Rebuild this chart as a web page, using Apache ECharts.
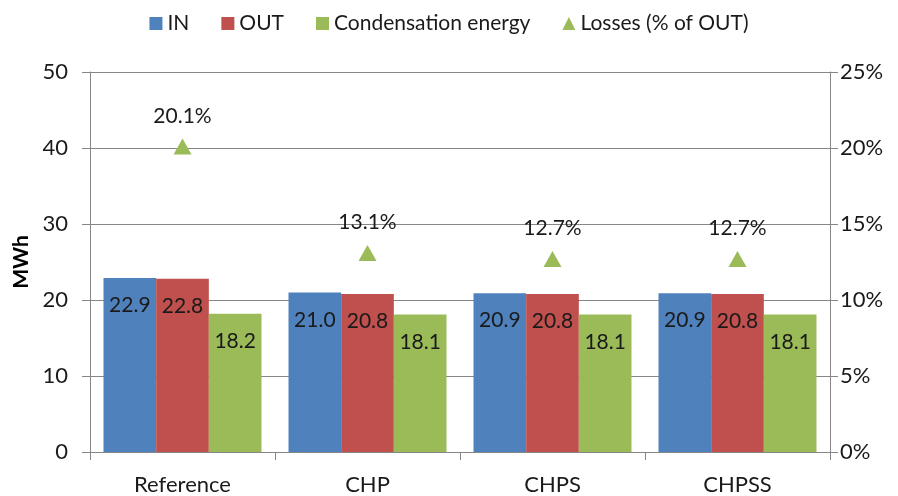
<!DOCTYPE html>
<html><head><meta charset="utf-8">
<script src="https://cdn.jsdelivr.net/npm/echarts@6/dist/echarts.min.js"></script>
<style>html,body{margin:0;padding:0;background:#fff}#c{width:898px;height:496px}</style>
</head><body><div id="c"></div>
<script>
const categories = ['Reference', 'CHP', 'CHPS', 'CHPSS'];
const inValues = [22.9, 21.0, 20.9, 20.9];
const outValues = [22.8, 20.8, 20.8, 20.8];
const condValues = [18.2, 18.1, 18.1, 18.1];
const lossValues = [20.1, 13.1, 12.7, 12.7];
const seriesNames = ['IN', 'OUT', 'Condensation energy', 'Losses (% of OUT)'];

const FONT = 'Lato';
const axisGrey = '#868686';
const txt = '#1a1a1a';
const chart = echarts.init(document.getElementById('c'), null, {renderer: 'canvas'});
const barLabel = {show: true, position: 'insideTop', distance: 17, color: txt, fontSize: 21, fontFamily: FONT,
  formatter: p => p.value.toFixed(1)};
function bar(name, data, color) {
  return {name, type: 'bar', data, barGap: '0%', barCategoryGap: '14.6%', itemStyle: {color}, label: barLabel};
}
chart.setOption({
  animation: false,
  textStyle: {fontFamily: FONT},
  legend: {
    top: 8, left: 'center', itemWidth: 13, itemHeight: 13, itemGap: 32,
    textStyle: {fontSize: 21, color: txt, fontFamily: FONT},
    data: [
      {name: seriesNames[0], icon: 'rect'},
      {name: seriesNames[1], icon: 'rect'},
      {name: seriesNames[2], icon: 'rect'},
      {name: seriesNames[3], icon: 'triangle'}
    ]
  },
  grid: {left: 90, right: 68, top: 72, bottom: 44, containLabel: false, outerBoundsMode: 'none'},
  xAxis: {
    type: 'category', data: categories,
    axisLine: {lineStyle: {color: axisGrey}},
    axisTick: {show: true, length: 8, lineStyle: {color: axisGrey}},
    axisLabel: {fontSize: 22, color: txt, margin: 22, fontFamily: FONT}
  },
  yAxis: [
    {type: 'value', min: 0, max: 50, interval: 10, name: 'MWh', nameLocation: 'middle', nameGap: 58,
     nameTextStyle: {fontSize: 21, fontWeight: 'bold', color: '#000', fontFamily: FONT},
     axisLine: {show: true, lineStyle: {color: axisGrey}},
     axisTick: {show: true, length: 8, lineStyle: {color: axisGrey}},
     splitLine: {lineStyle: {color: axisGrey}},
     axisLabel: {fontSize: 22, color: txt, margin: 22, fontFamily: FONT}},
    {type: 'value', min: 0, max: 25, interval: 5, position: 'right',
     axisLine: {show: true, lineStyle: {color: axisGrey}},
     axisTick: {show: true, length: 8, lineStyle: {color: axisGrey}},
     splitLine: {show: false},
     axisLabel: {fontSize: 22, color: txt, margin: 10, fontFamily: FONT, formatter: '{value}%'}}
  ],
  series: [
    bar(seriesNames[0], inValues, '#4F81BD'),
    bar(seriesNames[1], outValues, '#C0504D'),
    bar(seriesNames[2], condValues, '#9BBB59'),
    {name: seriesNames[3], type: 'scatter', yAxisIndex: 1, data: lossValues, symbol: 'triangle', symbolSize: [18, 16],
     itemStyle: {color: '#9BBB59', opacity: 1},
     label: {show: true, position: 'top', distance: 12, fontSize: 21, color: txt, opacity: 1, fontFamily: FONT,
       formatter: p => p.value.toFixed(1) + '%'}}
  ]
});
</script></body></html>
